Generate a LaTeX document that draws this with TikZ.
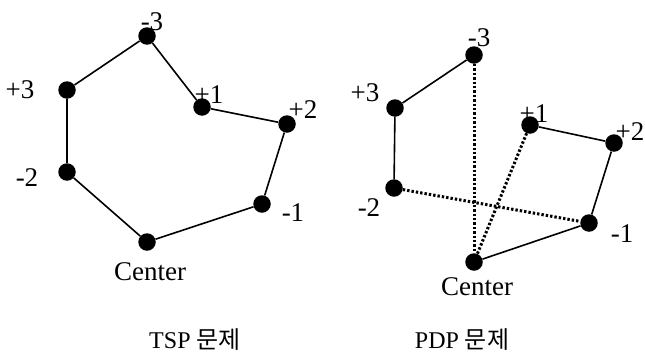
\documentclass[tikz,border=0pt]{standalone}
\usepackage{fontspec}
\setmainfont{Liberation Serif}
\newfontfamily\kor{Noto Sans CJK KR}

\tikzset{
    vtx/.style={circle, fill=black, inner sep=0pt, minimum size=17.5pt},
    lbl/.style={inner sep=0pt, font=\fontsize{27}{30}\selectfont},
    ttl/.style={inner sep=0pt, font=\fontsize{24}{27}\selectfont},
    tour/.style={line width=1.6pt},
    back/.style={line width=3pt, dash pattern=on 2.4pt off 2pt}
}

\begin{document}
\begin{tikzpicture}[x=1pt, y=-1pt]
    \useasboundingbox (0,0) rectangle (645,359);

    % TSP
    \begin{scope}
        \node[vtx] (tm3) at (147,36) {};
        \node[vtx] (tp3) at (67,90) {};
        \node[vtx] (tp1) at (202,107) {};
        \node[vtx] (tp2) at (287,124) {};
        \node[vtx] (tm2) at (67,172) {};
        \node[vtx] (tm1) at (262,204) {};
        \node[vtx] (tc) at (147,242) {};
        \draw[tour] (tm3)--(tp3)--(tm2)--(tc)--(tm1)--(tp2)--(tp1)--(tm3);
        \node[lbl] (ltm3) at (152,22) {-3};
        \node[lbl] (ltp3) at (20,90) {+3};
        \node[lbl] (ltp1) at (209,95) {+1};
        \node[lbl] (ltp2) at (303,110) {+2};
        \node[lbl] (ltm2) at (27,178) {-2};
        \node[lbl] (ltm1) at (293,213) {-1};
        \node[lbl] (ltc) at (150,272) {Center};
    \end{scope}

    % PDP
    \begin{scope}[shift={(320,0)}]
        \node[vtx] (pm3) at (154,55) {};
        \node[vtx] (pp3) at (75,108) {};
        \node[vtx] (pp1) at (210,125) {};
        \node[vtx] (pp2) at (294,143) {};
        \node[vtx] (pm2) at (74,188) {};
        \node[vtx] (pm1) at (269,223) {};
        \node[vtx] (pc) at (154,262) {};
        \draw[tour] (pm3)--(pp3)--(pm2);
        \draw[tour] (pp1)--(pp2)--(pm1)--(pc);
        \draw[back] (pm3)--(pc);
        \draw[back] (pp1)--(pc);
        \draw[back] (pm2)--(pm1);
        \node[lbl] (lpm3) at (159,38) {-3};
        \node[lbl] (lpp3) at (45,93) {+3};
        \node[lbl] (lpp1) at (214,114) {+1};
        \node[lbl] (lpp2) at (310,132) {+2};
        \node[lbl] (lpm2) at (49,208) {-2};
        \node[lbl] (lpm1) at (302,234) {-1};
        \node[lbl] (lpc) at (157,287) {Center};
    \end{scope}

    % titles
    \node[ttl] (tsp) at (195,340) {TSP {\kor 문제}};
    \node[ttl] (pdp) at (462,340) {PDP {\kor 문제}};
\end{tikzpicture}
\end{document}
